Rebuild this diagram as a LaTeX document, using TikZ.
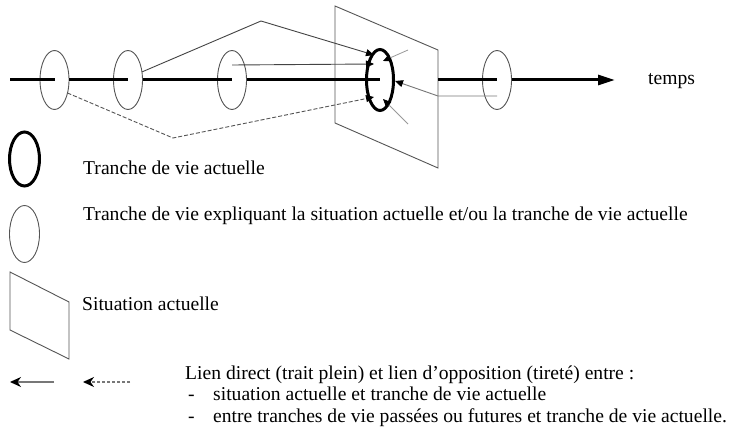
\documentclass[tikz,border=0pt]{standalone}
\usepackage{fontspec}
\setmainfont{Liberation Serif}
\usetikzlibrary{arrows.meta,shapes.geometric,calc}
\definecolor{shapegray}{HTML}{555555}
\definecolor{linkgray}{HTML}{444444}
\definecolor{lightgray2}{HTML}{999999}
\definecolor{midgray}{HTML}{777777}
\begin{document}
\begin{tikzpicture}[x=1pt,y=-1pt,
  slice/.style={ellipse,draw=shapegray,line width=0.9pt,minimum width=29pt,minimum height=59pt,inner sep=0pt,outer sep=0pt},
  cur/.style={ellipse,draw=black,line width=3pt,minimum width=27pt,minimum height=61pt,inner sep=0pt,outer sep=0pt},
  axisline/.style={line width=3pt},
  plane/.style={draw=shapegray,line width=0.9pt,line join=miter},
  tip/.style={-{Triangle[length=8pt,width=7pt,color=black]}},
  link/.style={draw=linkgray,line width=0.9pt,tip},
  dlink/.style={draw=shapegray,line width=0.9pt,dash pattern=on 4pt off 2pt,tip},
  glink/.style={draw=lightgray2,line width=0.8pt,tip},
  rlink/.style={draw=midgray,line width=0.9pt,tip},
  legarrow/.style={draw=midgray,line width=1.3pt,-{Stealth[length=11pt,width=10pt,inset=3.5pt,color=black]}},
  lbl/.style={anchor=base west,inner sep=0pt,font=\fontsize{19.6}{22}\selectfont}]
\useasboundingbox[fill=white] (0,0) rectangle (730,430);

% --- slices of life on the time axis
\node[slice] (e1) at (54.5,80) {};
\node[slice] (e2) at (128,80) {};
\node[slice] (e3) at (232,80) {};
\node[slice] (e5) at (497,80) {};

% --- current situation (plane)
\coordinate (p1) at (335,6);
\coordinate (p2) at (438,50);
\coordinate (p3) at (438,168);
\coordinate (p4) at (335,123);
\draw[plane] (p1) -- (p2) -- (p3) -- (p4) -- cycle;

% --- time axis
\coordinate (a0) at (10,80);
\coordinate (a1) at (615,80);
\draw[axisline] (a0) -- (e1.center);
\draw[axisline] (e1.east) -- (e2.center);
\draw[axisline] (e2.east) -- (e3.center);
\node[cur] (ec) at (380,80) {};
\draw[axisline] (e3.east) -- (ec.center);
\draw[axisline] (p2 |- e5.center) -- (e5.center);
\draw[axisline,-{Triangle[length=17pt,width=10pt]}] (e5.east) -- (a1);
\node[lbl] (temps) at (648,85) {temps};

% --- links to the current slice
\coordinate (t) at (261,21);
\draw[link] (e2.30) -- (t) -- ($(ec.center)+(-6,-25)$);
\draw[link] ($(e3.center)+(0,-15)$) -- ($(ec.center)+(-6,-16)$);
\coordinate (d) at (173,138);
\draw[dlink] (e1.-45) -- (d) -- ($(ec.center)+(-6,17)$);
\coordinate (rb) at (438,96);
\draw[rlink] ($(e5.center)+(0,16)$) -- (rb) -- ($(ec.center)+(15,1)$);
\coordinate (g1) at (408,50);
\coordinate (g2) at (408,124);
\draw[glink] (g1) -- ($(ec.center)+(3,-19)$);
\draw[glink] (g2) -- ($(ec.center)+(3,19)$);

% --- legend
\node[cur,minimum width=30pt,minimum height=54pt] (lc) at (24.5,159) {};
\node[lbl] (lct) at (83,175) {Tranche de vie actuelle};
\node[slice,minimum width=30pt,minimum height=57pt] (ls) at (24.5,234) {};
\node[lbl] (lst) at (83,221) {Tranche de vie expliquant la situation actuelle et/ou la tranche de vie actuelle};
\coordinate (q1) at (10,272);
\coordinate (q2) at (69,302);
\coordinate (q3) at (69,359);
\coordinate (q4) at (10,330);
\draw[plane] (q1) -- (q2) -- (q3) -- (q4) -- cycle;
\node[lbl] (lpt) at (82,310) {Situation actuelle};
\coordinate (la1) at (54,382);
\coordinate (la0) at (10,382);
\draw[legarrow] (la1) -- (la0);
\coordinate (lb1) at (130,382);
\coordinate (lb0) at (83,382);
\draw[legarrow,dash pattern=on 3pt off 2pt] (lb1) -- (lb0);
\node[lbl] (l1) at (185,379) {Lien direct (trait plein) et lien d’opposition (tireté) entre :};
\node[lbl] (d1) at (188,400) {-};
\node[lbl] (l2) at (213,400) {situation actuelle et tranche de vie actuelle};
\node[lbl] (d2) at (188,422) {-};
\node[lbl] (l3) at (213,422) {entre tranches de vie passées ou futures et tranche de vie actuelle.};
\end{tikzpicture}
\end{document}
